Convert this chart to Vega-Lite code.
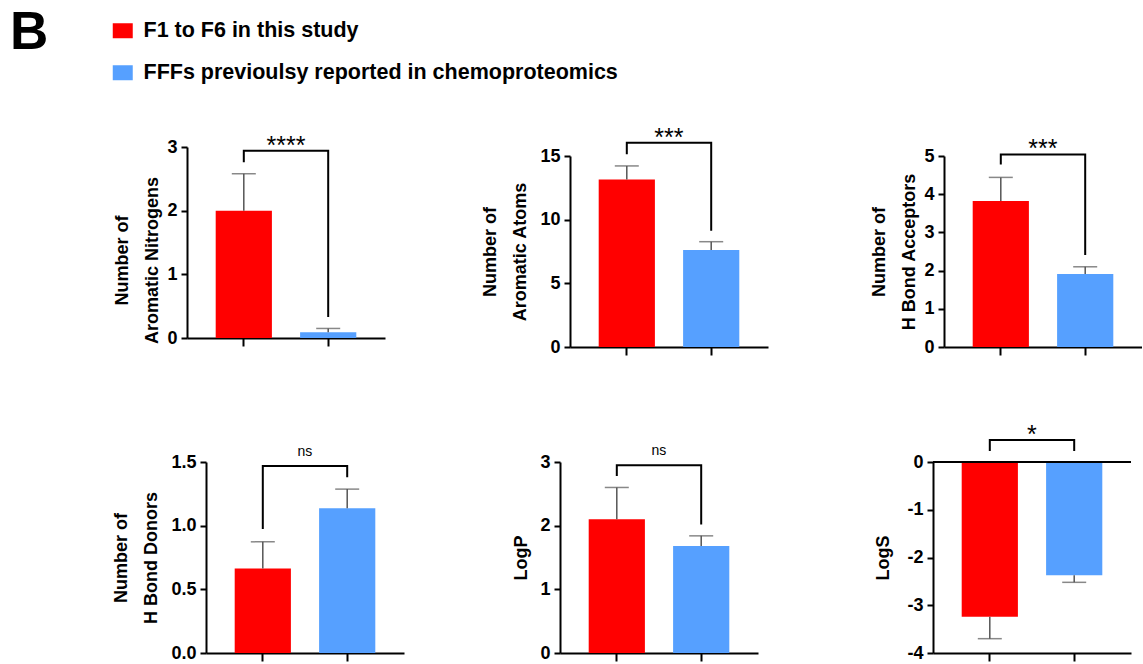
{
  "$schema": "https://vega.github.io/schema/vega-lite/v6.json",
  "padding": {"left": 10, "top": 7, "right": 0, "bottom": 0},
  "title": {"text": "B", "anchor": "start", "frame": "group", "fontSize": 53, "font": "Liberation Sans", "fontWeight": "bold", "color": "black", "dx": -177, "dy": 40, "offset": 0},
  "datasets": {
    "bars": [
      {"panel": "p1", "group": "F1 to F6 in this study", "mean": 2.0, "err_end": 2.58},
      {"panel": "p1", "group": "FFFs previoulsy reported in chemoproteomics", "mean": 0.09, "err_end": 0.15},
      {"panel": "p2", "group": "F1 to F6 in this study", "mean": 13.15, "err_end": 14.22},
      {"panel": "p2", "group": "FFFs previoulsy reported in chemoproteomics", "mean": 7.62, "err_end": 8.27},
      {"panel": "p3", "group": "F1 to F6 in this study", "mean": 3.82, "err_end": 4.44},
      {"panel": "p3", "group": "FFFs previoulsy reported in chemoproteomics", "mean": 1.91, "err_end": 2.1},
      {"panel": "p4", "group": "F1 to F6 in this study", "mean": 0.663, "err_end": 0.873},
      {"panel": "p4", "group": "FFFs previoulsy reported in chemoproteomics", "mean": 1.137, "err_end": 1.287},
      {"panel": "p5", "group": "F1 to F6 in this study", "mean": 2.1, "err_end": 2.6},
      {"panel": "p5", "group": "FFFs previoulsy reported in chemoproteomics", "mean": 1.68, "err_end": 1.84},
      {"panel": "p6", "group": "F1 to F6 in this study", "mean": -3.24, "err_end": -3.7},
      {"panel": "p6", "group": "FFFs previoulsy reported in chemoproteomics", "mean": -2.37, "err_end": -2.52}
    ],
    "brackets": [
      {"panel": "p1", "group": "F1 to F6 in this study", "y": 2.76, "order": 1},
      {"panel": "p1", "group": "F1 to F6 in this study", "y": 2.94, "order": 2},
      {"panel": "p1", "group": "FFFs previoulsy reported in chemoproteomics", "y": 2.94, "order": 3},
      {"panel": "p1", "group": "FFFs previoulsy reported in chemoproteomics", "y": 0.33, "order": 4},
      {"panel": "p2", "group": "F1 to F6 in this study", "y": 15.14, "order": 1},
      {"panel": "p2", "group": "F1 to F6 in this study", "y": 16.05, "order": 2},
      {"panel": "p2", "group": "FFFs previoulsy reported in chemoproteomics", "y": 16.05, "order": 3},
      {"panel": "p2", "group": "FFFs previoulsy reported in chemoproteomics", "y": 9.13, "order": 4},
      {"panel": "p3", "group": "F1 to F6 in this study", "y": 4.78, "order": 1},
      {"panel": "p3", "group": "F1 to F6 in this study", "y": 5.04, "order": 2},
      {"panel": "p3", "group": "FFFs previoulsy reported in chemoproteomics", "y": 5.04, "order": 3},
      {"panel": "p3", "group": "FFFs previoulsy reported in chemoproteomics", "y": 2.41, "order": 4},
      {"panel": "p4", "group": "F1 to F6 in this study", "y": 0.973, "order": 1},
      {"panel": "p4", "group": "F1 to F6 in this study", "y": 1.468, "order": 2},
      {"panel": "p4", "group": "FFFs previoulsy reported in chemoproteomics", "y": 1.468, "order": 3},
      {"panel": "p4", "group": "FFFs previoulsy reported in chemoproteomics", "y": 1.381, "order": 4},
      {"panel": "p5", "group": "F1 to F6 in this study", "y": 2.78, "order": 1},
      {"panel": "p5", "group": "F1 to F6 in this study", "y": 2.95, "order": 2},
      {"panel": "p5", "group": "FFFs previoulsy reported in chemoproteomics", "y": 2.95, "order": 3},
      {"panel": "p5", "group": "FFFs previoulsy reported in chemoproteomics", "y": 2.02, "order": 4},
      {"panel": "p6", "group": "F1 to F6 in this study", "y": 0.23, "order": 1},
      {"panel": "p6", "group": "F1 to F6 in this study", "y": 0.46, "order": 2},
      {"panel": "p6", "group": "FFFs previoulsy reported in chemoproteomics", "y": 0.46, "order": 3},
      {"panel": "p6", "group": "FFFs previoulsy reported in chemoproteomics", "y": 0.23, "order": 4}
    ],
    "sig": [
      {"panel": "p1", "group": "F1 to F6 in this study", "label": "****", "y": 2.94},
      {"panel": "p2", "group": "F1 to F6 in this study", "label": "***", "y": 16.05},
      {"panel": "p3", "group": "F1 to F6 in this study", "label": "***", "y": 5.04},
      {"panel": "p4", "group": "F1 to F6 in this study", "label": "ns", "y": 1.468},
      {"panel": "p5", "group": "F1 to F6 in this study", "label": "ns", "y": 2.95},
      {"panel": "p6", "group": "F1 to F6 in this study", "label": "*", "y": 0.46}
    ]
  },
  "spacing": 67,
  "vconcat": [
    {
      "spacing": 96,
      "hconcat": [
        {
          "width": 198, "height": 191,
          "layer": [
            {"data": {"name": "bars"}, "transform": [{"filter": "datum.panel === 'p1'"}], "mark": {"type": "bar"},
             "encoding": {
               "x": {"field": "group", "type": "nominal", "sort": null, "scale": {"domain": ["F1 to F6 in this study", "FFFs previoulsy reported in chemoproteomics"], "paddingInner": 0.334, "paddingOuter": 0.34}, "axis": {"title": null, "labels": false, "bandPosition": 0.5}},
               "y": {"field": "mean", "type": "quantitative", "scale": {"domain": [0, 3], "nice": false, "zero": false}, "axis": {"values": [0, 1, 2, 3], "format": "d", "labelOverlap": false, "title": ["Number of", "Aromatic Nitrogens"], "titleY": 113}},
               "color": {"field": "group", "type": "nominal", "scale": {"domain": ["F1 to F6 in this study", "FFFs previoulsy reported in chemoproteomics"], "range": ["#FF0000", "#56A0FF"]}, "legend": {"orient": "none", "legendX": -75, "legendY": -127, "title": null, "symbolType": "M-1,-0.75H1V0.75H-1Z", "symbolSize": 400, "symbolStrokeWidth": 0, "symbolOpacity": 1, "labelFontSize": 21.5, "labelFont": "Liberation Sans", "labelFontWeight": "bold", "labelColor": "black", "rowPadding": 19, "labelOffset": 10, "padding": 0, "labelLimit": 700}}
             }},
            {"data": {"name": "bars"}, "transform": [{"filter": "datum.panel === 'p1'"}], "mark": {"type": "rule", "color": "#555555", "strokeWidth": 1.5},
             "encoding": {"x": {"field": "group", "type": "nominal"}, "y": {"field": "mean", "type": "quantitative"}, "y2": {"field": "err_end"}}},
            {"data": {"name": "bars"}, "transform": [{"filter": "datum.panel === 'p1'"}], "mark": {"type": "tick", "color": "#555555", "thickness": 1.5, "size": 24, "orient": "horizontal"},
             "encoding": {"x": {"field": "group", "type": "nominal"}, "y": {"field": "err_end", "type": "quantitative"}}},
            {"data": {"name": "brackets"}, "transform": [{"filter": "datum.panel === 'p1'"}], "mark": {"type": "line", "color": "black", "strokeWidth": 2, "strokeJoin": "miter"},
             "encoding": {"x": {"field": "group", "type": "nominal"}, "y": {"field": "y", "type": "quantitative"}, "order": {"field": "order", "type": "quantitative"}}},
            {"data": {"name": "sig"}, "transform": [{"filter": "datum.panel === 'p1'"}], "mark": {"type": "text", "fontSize": 25, "dy": 3, "font": "Liberation Sans", "baseline": "alphabetic", "align": "center", "color": "black"},
             "encoding": {"x": {"field": "group", "type": "nominal", "bandPosition": 1.25}, "y": {"field": "y", "type": "quantitative"}, "text": {"field": "label"}}}
          ]
        },
        {
          "spacing": 102,
          "hconcat": [
            {
              "width": 198, "height": 200,
              "layer": [
                {"data": {"name": "bars"}, "transform": [{"filter": "datum.panel === 'p2'"}], "mark": {"type": "bar"},
                 "encoding": {
                   "x": {"field": "group", "type": "nominal", "sort": null, "scale": {"domain": ["F1 to F6 in this study", "FFFs previoulsy reported in chemoproteomics"], "paddingInner": 0.334, "paddingOuter": 0.34}, "axis": {"title": null, "labels": false, "bandPosition": 0.5}},
                   "y": {"field": "mean", "type": "quantitative", "scale": {"domain": [0, 15], "range": [200, 9], "nice": false, "zero": false}, "axis": {"values": [0, 5, 10, 15], "format": "d", "labelOverlap": false, "titlePadding": 10, "title": ["Number of", "Aromatic Atoms"]}},
                   "color": {"field": "group", "type": "nominal", "scale": {"domain": ["F1 to F6 in this study", "FFFs previoulsy reported in chemoproteomics"], "range": ["#FF0000", "#56A0FF"]}, "legend": {"orient": "none", "legendX": -75, "legendY": -127, "title": null, "symbolType": "M-1,-0.75H1V0.75H-1Z", "symbolSize": 400, "symbolStrokeWidth": 0, "symbolOpacity": 1, "labelFontSize": 21.5, "labelFont": "Liberation Sans", "labelFontWeight": "bold", "labelColor": "black", "rowPadding": 19, "labelOffset": 10, "padding": 0, "labelLimit": 700}}
                 }},
                {"data": {"name": "bars"}, "transform": [{"filter": "datum.panel === 'p2'"}], "mark": {"type": "rule", "color": "#555555", "strokeWidth": 1.5},
                 "encoding": {"x": {"field": "group", "type": "nominal"}, "y": {"field": "mean", "type": "quantitative"}, "y2": {"field": "err_end"}}},
                {"data": {"name": "bars"}, "transform": [{"filter": "datum.panel === 'p2'"}], "mark": {"type": "tick", "color": "#555555", "thickness": 1.5, "size": 24, "orient": "horizontal"},
                 "encoding": {"x": {"field": "group", "type": "nominal"}, "y": {"field": "err_end", "type": "quantitative"}}},
                {"data": {"name": "brackets"}, "transform": [{"filter": "datum.panel === 'p2'"}], "mark": {"type": "line", "color": "black", "strokeWidth": 2, "strokeJoin": "miter"},
                 "encoding": {"x": {"field": "group", "type": "nominal"}, "y": {"field": "y", "type": "quantitative"}, "order": {"field": "order", "type": "quantitative"}}},
                {"data": {"name": "sig"}, "transform": [{"filter": "datum.panel === 'p2'"}], "mark": {"type": "text", "fontSize": 25, "dy": 3, "font": "Liberation Sans", "baseline": "alphabetic", "align": "center", "color": "black"},
                 "encoding": {"x": {"field": "group", "type": "nominal", "bandPosition": 1.25}, "y": {"field": "y", "type": "quantitative"}, "text": {"field": "label"}}}
              ]
            },
            {
              "width": 198, "height": 200,
              "layer": [
                {"data": {"name": "bars"}, "transform": [{"filter": "datum.panel === 'p3'"}], "mark": {"type": "bar"},
                 "encoding": {
                   "x": {"field": "group", "type": "nominal", "sort": null, "scale": {"domain": ["F1 to F6 in this study", "FFFs previoulsy reported in chemoproteomics"], "paddingInner": 0.334, "paddingOuter": 0.34}, "axis": {"title": null, "labels": false, "bandPosition": 0.5}},
                   "y": {"field": "mean", "type": "quantitative", "scale": {"domain": [0, 5], "range": [200, 9], "nice": false, "zero": false}, "axis": {"values": [0, 1, 2, 3, 4, 5], "format": "d", "labelOverlap": false, "tickCount": 6, "title": ["Number of", "H Bond Acceptors"]}},
                   "color": {"field": "group", "type": "nominal", "scale": {"domain": ["F1 to F6 in this study", "FFFs previoulsy reported in chemoproteomics"], "range": ["#FF0000", "#56A0FF"]}, "legend": {"orient": "none", "legendX": -75, "legendY": -127, "title": null, "symbolType": "M-1,-0.75H1V0.75H-1Z", "symbolSize": 400, "symbolStrokeWidth": 0, "symbolOpacity": 1, "labelFontSize": 21.5, "labelFont": "Liberation Sans", "labelFontWeight": "bold", "labelColor": "black", "rowPadding": 19, "labelOffset": 10, "padding": 0, "labelLimit": 700}}
                 }},
                {"data": {"name": "bars"}, "transform": [{"filter": "datum.panel === 'p3'"}], "mark": {"type": "rule", "color": "#555555", "strokeWidth": 1.5},
                 "encoding": {"x": {"field": "group", "type": "nominal"}, "y": {"field": "mean", "type": "quantitative"}, "y2": {"field": "err_end"}}},
                {"data": {"name": "bars"}, "transform": [{"filter": "datum.panel === 'p3'"}], "mark": {"type": "tick", "color": "#555555", "thickness": 1.5, "size": 24, "orient": "horizontal"},
                 "encoding": {"x": {"field": "group", "type": "nominal"}, "y": {"field": "err_end", "type": "quantitative"}}},
                {"data": {"name": "brackets"}, "transform": [{"filter": "datum.panel === 'p3'"}], "mark": {"type": "line", "color": "black", "strokeWidth": 2, "strokeJoin": "miter"},
                 "encoding": {"x": {"field": "group", "type": "nominal"}, "y": {"field": "y", "type": "quantitative"}, "order": {"field": "order", "type": "quantitative"}}},
                {"data": {"name": "sig"}, "transform": [{"filter": "datum.panel === 'p3'"}], "mark": {"type": "text", "fontSize": 25, "dy": 3, "font": "Liberation Sans", "baseline": "alphabetic", "align": "center", "color": "black"},
                 "encoding": {"x": {"field": "group", "type": "nominal", "bandPosition": 1.25}, "y": {"field": "y", "type": "quantitative"}, "text": {"field": "label"}}}
              ]
            }
          ]
        }
      ]
    },
    {
      "spacing": 108,
      "hconcat": [
        {
          "width": 217, "height": 191,
          "layer": [
            {"data": {"name": "bars"}, "transform": [{"filter": "datum.panel === 'p4'"}], "mark": {"type": "bar"},
             "encoding": {
               "x": {"field": "group", "type": "nominal", "sort": null, "scale": {"domain": ["F1 to F6 in this study", "FFFs previoulsy reported in chemoproteomics"], "range": [19, 217], "paddingInner": 0.334, "paddingOuter": 0.34}, "axis": {"title": null, "labels": false, "bandPosition": 0.5}},
               "y": {"field": "mean", "type": "quantitative", "scale": {"domain": [0, 1.5], "nice": false, "zero": false}, "axis": {"values": [0, 0.5, 1, 1.5], "format": ".1f", "labelOverlap": false, "offset": -19, "titlePadding": 10, "title": ["Number of", "H Bond Donors"]}},
               "color": {"field": "group", "type": "nominal", "scale": {"domain": ["F1 to F6 in this study", "FFFs previoulsy reported in chemoproteomics"], "range": ["#FF0000", "#56A0FF"]}, "legend": {"orient": "none", "legendX": -75, "legendY": -127, "title": null, "symbolType": "M-1,-0.75H1V0.75H-1Z", "symbolSize": 400, "symbolStrokeWidth": 0, "symbolOpacity": 1, "labelFontSize": 21.5, "labelFont": "Liberation Sans", "labelFontWeight": "bold", "labelColor": "black", "rowPadding": 19, "labelOffset": 10, "padding": 0, "labelLimit": 700}}
             }},
            {"data": {"name": "bars"}, "transform": [{"filter": "datum.panel === 'p4'"}], "mark": {"type": "rule", "color": "#555555", "strokeWidth": 1.5},
             "encoding": {"x": {"field": "group", "type": "nominal"}, "y": {"field": "mean", "type": "quantitative"}, "y2": {"field": "err_end"}}},
            {"data": {"name": "bars"}, "transform": [{"filter": "datum.panel === 'p4'"}], "mark": {"type": "tick", "color": "#555555", "thickness": 1.5, "size": 24, "orient": "horizontal"},
             "encoding": {"x": {"field": "group", "type": "nominal"}, "y": {"field": "err_end", "type": "quantitative"}}},
            {"data": {"name": "brackets"}, "transform": [{"filter": "datum.panel === 'p4'"}], "mark": {"type": "line", "color": "black", "strokeWidth": 2, "strokeJoin": "miter"},
             "encoding": {"x": {"field": "group", "type": "nominal"}, "y": {"field": "y", "type": "quantitative"}, "order": {"field": "order", "type": "quantitative"}}},
            {"data": {"name": "sig"}, "transform": [{"filter": "datum.panel === 'p4'"}], "mark": {"type": "text", "fontSize": 14, "dy": -10, "font": "Liberation Sans", "baseline": "alphabetic", "align": "center", "color": "black"},
             "encoding": {"x": {"field": "group", "type": "nominal", "bandPosition": 1.25}, "y": {"field": "y", "type": "quantitative"}, "text": {"field": "label"}}}
          ]
        },
        {
          "spacing": 116,
          "hconcat": [
            {
              "width": 198, "height": 191,
              "layer": [
                {"data": {"name": "bars"}, "transform": [{"filter": "datum.panel === 'p5'"}], "mark": {"type": "bar"},
                 "encoding": {
                   "x": {"field": "group", "type": "nominal", "sort": null, "scale": {"domain": ["F1 to F6 in this study", "FFFs previoulsy reported in chemoproteomics"], "paddingInner": 0.334, "paddingOuter": 0.34}, "axis": {"title": null, "labels": false, "bandPosition": 0.5}},
                   "y": {"field": "mean", "type": "quantitative", "scale": {"domain": [0, 3], "nice": false, "zero": false}, "axis": {"values": [0, 1, 2, 3], "format": "d", "labelOverlap": false, "titlePadding": 9, "title": "LogP"}},
                   "color": {"field": "group", "type": "nominal", "scale": {"domain": ["F1 to F6 in this study", "FFFs previoulsy reported in chemoproteomics"], "range": ["#FF0000", "#56A0FF"]}, "legend": {"orient": "none", "legendX": -75, "legendY": -127, "title": null, "symbolType": "M-1,-0.75H1V0.75H-1Z", "symbolSize": 400, "symbolStrokeWidth": 0, "symbolOpacity": 1, "labelFontSize": 21.5, "labelFont": "Liberation Sans", "labelFontWeight": "bold", "labelColor": "black", "rowPadding": 19, "labelOffset": 10, "padding": 0, "labelLimit": 700}}
                 }},
                {"data": {"name": "bars"}, "transform": [{"filter": "datum.panel === 'p5'"}], "mark": {"type": "rule", "color": "#555555", "strokeWidth": 1.5},
                 "encoding": {"x": {"field": "group", "type": "nominal"}, "y": {"field": "mean", "type": "quantitative"}, "y2": {"field": "err_end"}}},
                {"data": {"name": "bars"}, "transform": [{"filter": "datum.panel === 'p5'"}], "mark": {"type": "tick", "color": "#555555", "thickness": 1.5, "size": 24, "orient": "horizontal"},
                 "encoding": {"x": {"field": "group", "type": "nominal"}, "y": {"field": "err_end", "type": "quantitative"}}},
                {"data": {"name": "brackets"}, "transform": [{"filter": "datum.panel === 'p5'"}], "mark": {"type": "line", "color": "black", "strokeWidth": 2, "strokeJoin": "miter"},
                 "encoding": {"x": {"field": "group", "type": "nominal"}, "y": {"field": "y", "type": "quantitative"}, "order": {"field": "order", "type": "quantitative"}}},
                {"data": {"name": "sig"}, "transform": [{"filter": "datum.panel === 'p5'"}], "mark": {"type": "text", "fontSize": 14, "dy": -10, "font": "Liberation Sans", "baseline": "alphabetic", "align": "center", "color": "black"},
                 "encoding": {"x": {"field": "group", "type": "nominal", "bandPosition": 1.25}, "y": {"field": "y", "type": "quantitative"}, "text": {"field": "label"}}}
              ]
            },
            {
              "width": 198, "height": 191,
              "layer": [
                {"data": {"name": "bars"}, "transform": [{"filter": "datum.panel === 'p6'"}], "mark": {"type": "bar"},
                 "encoding": {
                   "x": {"field": "group", "type": "nominal", "sort": null, "scale": {"domain": ["F1 to F6 in this study", "FFFs previoulsy reported in chemoproteomics"], "paddingInner": 0.334, "paddingOuter": 0.34}, "axis": {"title": null, "labels": false, "bandPosition": 0.5}},
                   "y": {"field": "mean", "type": "quantitative", "scale": {"domain": [-4, 0], "nice": false, "zero": false}, "axis": {"values": [-4, -3, -2, -1, 0], "labelExpr": "replace(datum.label, '\u2212', '-')", "labelOverlap": false, "titlePadding": 14, "title": "LogS"}},
                   "color": {"field": "group", "type": "nominal", "scale": {"domain": ["F1 to F6 in this study", "FFFs previoulsy reported in chemoproteomics"], "range": ["#FF0000", "#56A0FF"]}, "legend": {"orient": "none", "legendX": -75, "legendY": -127, "title": null, "symbolType": "M-1,-0.75H1V0.75H-1Z", "symbolSize": 400, "symbolStrokeWidth": 0, "symbolOpacity": 1, "labelFontSize": 21.5, "labelFont": "Liberation Sans", "labelFontWeight": "bold", "labelColor": "black", "rowPadding": 19, "labelOffset": 10, "padding": 0, "labelLimit": 700}}
                 }},
                {"data": {"name": "bars"}, "transform": [{"filter": "datum.panel === 'p6'"}], "mark": {"type": "rule", "color": "#555555", "strokeWidth": 1.5},
                 "encoding": {"x": {"field": "group", "type": "nominal"}, "y": {"field": "mean", "type": "quantitative"}, "y2": {"field": "err_end"}}},
                {"data": {"name": "bars"}, "transform": [{"filter": "datum.panel === 'p6'"}], "mark": {"type": "tick", "color": "#555555", "thickness": 1.5, "size": 24, "orient": "horizontal"},
                 "encoding": {"x": {"field": "group", "type": "nominal"}, "y": {"field": "err_end", "type": "quantitative"}}},
                {"data": {"values": [{}]}, "mark": {"type": "rule", "color": "black", "strokeWidth": 2},
                 "encoding": {"y": {"datum": 0, "type": "quantitative"}}},
                {"data": {"name": "brackets"}, "transform": [{"filter": "datum.panel === 'p6'"}], "mark": {"type": "line", "color": "black", "strokeWidth": 2, "strokeJoin": "miter"},
                 "encoding": {"x": {"field": "group", "type": "nominal"}, "y": {"field": "y", "type": "quantitative"}, "order": {"field": "order", "type": "quantitative"}}},
                {"data": {"name": "sig"}, "transform": [{"filter": "datum.panel === 'p6'"}], "mark": {"type": "text", "fontSize": 25, "dy": 3, "font": "Liberation Sans", "baseline": "alphabetic", "align": "center", "color": "black"},
                 "encoding": {"x": {"field": "group", "type": "nominal", "bandPosition": 1.25}, "y": {"field": "y", "type": "quantitative"}, "text": {"field": "label"}}}
              ]
            }
          ]
        }
      ]
    }
  ],
  "config": {
    "view": {"stroke": null},
    "axis": {"domainColor": "black", "domainWidth": 2, "tickColor": "black", "tickWidth": 2, "labelColor": "black", "labelFont": "Liberation Sans", "labelFontSize": 18, "labelFontWeight": "bold", "labelPadding": 4, "labelOverlap": false, "titleFont": "Liberation Sans", "titleFontSize": 18, "titleFontWeight": "bold", "titleColor": "black", "titlePadding": 5, "titleLineHeight": 30, "grid": false},
    "axisY": {"tickSize": 6},
    "axisX": {"tickSize": 8}
  }
}
